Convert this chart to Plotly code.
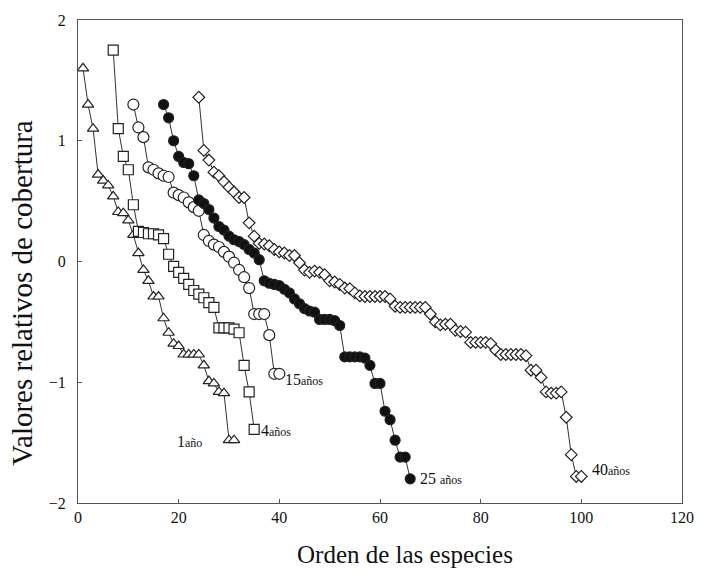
import plotly.graph_objects as go

# Relative cover values ordered by species rank, for each fallow age.
# Each curve starts at its own rank offset so the curves do not overlap.
start_1 = 1
vals_1 = [1.60, 1.30, 1.10, 0.72, 0.67, 0.63, 0.54, 0.41, 0.40, 0.34,
          0.22, 0.07, -0.07, -0.16, -0.29, -0.29, -0.47, -0.59, -0.68, -0.70,
          -0.77, -0.77, -0.77, -0.77, -0.86, -0.99, -1.01, -1.08, -1.09, -1.48,
          -1.48]

start_4 = 7
vals_4 = [1.75, 1.10, 0.87, 0.76, 0.47, 0.25, 0.24, 0.23, 0.23, 0.22,
          0.19, 0.06, -0.04, -0.09, -0.14, -0.19, -0.24, -0.27, -0.30, -0.34,
          -0.38, -0.55, -0.55, -0.55, -0.56, -0.59, -0.86, -1.08, -1.39]

start_15 = 11
vals_15 = [1.30, 1.11, 1.03, 0.78, 0.76, 0.73, 0.71, 0.70, 0.57, 0.55,
           0.53, 0.49, 0.45, 0.42, 0.22, 0.17, 0.14, 0.12, 0.08, 0.04,
           -0.01, -0.07, -0.13, -0.22, -0.435, -0.435, -0.435, -0.61, -0.93, -0.93]

start_25 = 17
vals_25 = [1.30, 1.19, 1.00, 0.87, 0.82, 0.81, 0.71, 0.51, 0.48, 0.43,
           0.36, 0.29, 0.26, 0.21, 0.18, 0.165, 0.14, 0.10, 0.07, 0.015,
           -0.16, -0.18, -0.19, -0.20, -0.23, -0.26, -0.31, -0.35, -0.39, -0.41,
           -0.42, -0.48, -0.48, -0.48, -0.49, -0.53, -0.79, -0.79, -0.79, -0.79,
           -0.80, -0.86, -1.01, -1.01, -1.24, -1.31, -1.48, -1.62, -1.62, -1.80]

start_40 = 24
vals_40 = [1.36, 0.92, 0.84, 0.74, 0.71, 0.66, 0.615, 0.575, 0.53, 0.53,
           0.32, 0.21, 0.15, 0.145, 0.13, 0.10, 0.08, 0.07, 0.05, 0.05,
           -0.01, -0.07, -0.09, -0.08, -0.09, -0.11, -0.16, -0.17, -0.19, -0.22,
           -0.225, -0.26, -0.285, -0.29, -0.29, -0.29, -0.29, -0.29, -0.31, -0.37,
           -0.38, -0.38, -0.38, -0.38, -0.38, -0.38, -0.435, -0.50, -0.525, -0.52,
           -0.52, -0.57, -0.58, -0.585, -0.67, -0.67, -0.67, -0.67, -0.68, -0.735,
           -0.77, -0.77, -0.77, -0.77, -0.77, -0.78, -0.90, -0.90, -0.96, -1.08,
           -1.09, -1.09, -1.08, -1.29, -1.60, -1.78, -1.78]

x_ticks = [0, 20, 40, 60, 80, 100, 120]
y_ticks = [-2, -1, 0, 1, 2]

FONT = "Liberation Serif, Times New Roman, serif"
INK = "#111111"

series = [
    # (start, values, symbol, fill, size)
    (start_1, vals_1, "triangle-up", "white", 10),
    (start_4, vals_4, "square", "white", 10),
    (start_15, vals_15, "circle", "white", 11),
    (start_25, vals_25, "circle", "#111111", 10),
    (start_40, vals_40, "diamond", "white", 9),
]

fig = go.Figure()
for start, vals, sym, fill, size in series:
    xs = [start + i for i in range(len(vals))]
    fig.add_trace(go.Scatter(
        x=xs, y=vals, mode="lines+markers",
        line=dict(color="#333333", width=1),
        marker=dict(symbol=sym, size=size, color=fill,
                    line=dict(color="#222222", width=1.2)),
        showlegend=False, hoverinfo="skip",
    ))

# Age labels at the end of each curve
labels = [
    ("1", "año", 19.3, -1.49),
    ("4", "años", 36.0, -1.40),
    ("15", "años", 40.8, -0.98),
    ("25 ", "años", 67.6, -1.80),
    ("40", "años", 101.8, -1.72),
]
for big, small, lx, ly in labels:
    fig.add_annotation(
        x=lx, y=ly, xanchor="left", yanchor="middle", showarrow=False,
        text=f"{big}<span style='font-size:12px'>{small}</span>",
        font=dict(family=FONT, size=16, color=INK),
    )

# Axis titles
fig.add_annotation(
    xref="paper", yref="paper", x=0.541, y=-0.106,
    xanchor="center", yanchor="middle", showarrow=False,
    text="Orden de las especies",
    font=dict(family=FONT, size=25, color=INK),
)
fig.add_annotation(
    xref="paper", yref="paper", x=-0.093, y=0.435,
    xanchor="center", yanchor="middle", showarrow=False, textangle=-90,
    text="Valores relativos de cobertura",
    font=dict(family=FONT, size=29, color=INK),
)

axis_common = dict(
    showline=True, linecolor="#555555", linewidth=1, mirror=True,
    ticks="inside", ticklen=4, tickcolor="#555555",
    showgrid=False, zeroline=False,
    tickfont=dict(family=FONT, size=16, color=INK),
)

fig.update_xaxes(range=[0, 120], tickvals=x_ticks, **axis_common)
fig.update_yaxes(range=[-2, 2], tickvals=y_ticks, ticklabelstandoff=8,
                 **axis_common)

fig.update_layout(
    width=706, height=576,
    margin=dict(l=78, r=15, t=14, b=73),
    paper_bgcolor="white", plot_bgcolor="white",
)

fig.write_html("out.html")
